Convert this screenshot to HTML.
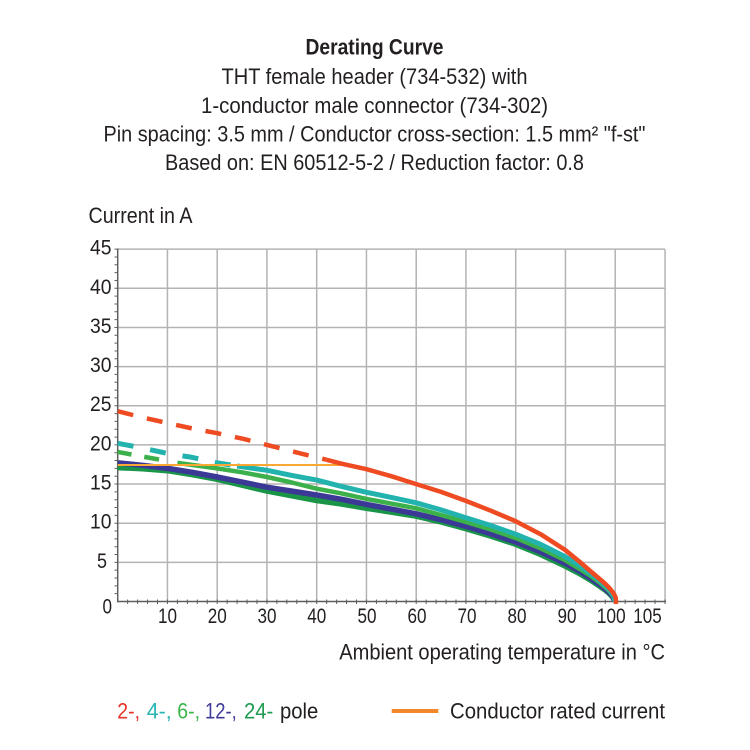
<!DOCTYPE html>
<html>
<head>
<meta charset="utf-8">
<style>
html,body{margin:0;padding:0;background:#fff;}
svg{display:block;}
text{font-family:"Liberation Sans Narrow","Liberation Sans",sans-serif;fill:#231f20;}
</style>
</head>
<body>
<svg width="750" height="750" viewBox="0 0 750 750" xmlns="http://www.w3.org/2000/svg">
<rect x="0" y="0" width="750" height="750" fill="#fff"/>

<!-- Titles -->
<text x="374.5" y="54.5" font-size="22" font-weight="bold" text-anchor="middle" textLength="138" lengthAdjust="spacingAndGlyphs">Derating Curve</text>
<text x="374.5" y="84" font-size="22" text-anchor="middle" textLength="306" lengthAdjust="spacingAndGlyphs">THT female header (734-532) with</text>
<text x="374.5" y="113" font-size="22" text-anchor="middle" textLength="347" lengthAdjust="spacingAndGlyphs">1-conductor male connector (734-302)</text>
<text x="374.5" y="141.5" font-size="22" text-anchor="middle" textLength="542" lengthAdjust="spacingAndGlyphs">Pin spacing: 3.5 mm / Conductor cross-section: 1.5 mm² "f-st"</text>
<text x="374.5" y="170" font-size="22" text-anchor="middle" textLength="419" lengthAdjust="spacingAndGlyphs">Based on: EN 60512-5-2 / Reduction factor: 0.8</text>
<text x="88.5" y="223" font-size="22" textLength="104" lengthAdjust="spacingAndGlyphs">Current in A</text>

<!-- Grid -->
<g stroke="#b3b3b3" stroke-width="1.5" fill="none">
  <line x1="117.7" y1="562.35" x2="665" y2="562.35"/>
  <line x1="117.7" y1="523.2" x2="665" y2="523.2"/>
  <line x1="117.7" y1="484.05" x2="665" y2="484.05"/>
  <line x1="117.7" y1="444.9" x2="665" y2="444.9"/>
  <line x1="117.7" y1="405.75" x2="665" y2="405.75"/>
  <line x1="117.7" y1="366.6" x2="665" y2="366.6"/>
  <line x1="117.7" y1="327.45" x2="665" y2="327.45"/>
  <line x1="117.7" y1="288.3" x2="665" y2="288.3"/>
  <line x1="117.7" y1="249.15" x2="665" y2="249.15"/>
  <line x1="167.45" y1="249.15" x2="167.45" y2="601.5"/>
  <line x1="217.2" y1="249.15" x2="217.2" y2="601.5"/>
  <line x1="266.95" y1="249.15" x2="266.95" y2="601.5"/>
  <line x1="316.7" y1="249.15" x2="316.7" y2="601.5"/>
  <line x1="366.45" y1="249.15" x2="366.45" y2="601.5"/>
  <line x1="416.2" y1="249.15" x2="416.2" y2="601.5"/>
  <line x1="465.95" y1="249.15" x2="465.95" y2="601.5"/>
  <line x1="515.7" y1="249.15" x2="515.7" y2="601.5"/>
  <line x1="565.45" y1="249.15" x2="565.45" y2="601.5"/>
  <line x1="615.2" y1="249.15" x2="615.2" y2="601.5"/>
  <line x1="665.05" y1="249.15" x2="665.05" y2="601.5"/>
</g>

<!-- Axes -->
<g stroke="#5f5f5f" stroke-width="1.5" fill="none">
  <line x1="117.7" y1="248.5" x2="117.7" y2="602.2"/>
  <line x1="117" y1="601.5" x2="666" y2="601.5"/>
</g>
<g stroke="#5f5f5f" stroke-width="1">
  <path d="M114.5 593.67H117.7M114.5 585.84H117.7M114.5 578.01H117.7M114.5 570.18H117.7M114.5 562.35H117.7M114.5 554.52H117.7M114.5 546.69H117.7M114.5 538.86H117.7M114.5 531.03H117.7M114.5 523.2H117.7M114.5 515.37H117.7M114.5 507.54H117.7M114.5 499.71H117.7M114.5 491.88H117.7M114.5 484.05H117.7M114.5 476.22H117.7M114.5 468.39H117.7M114.5 460.56H117.7M114.5 452.73H117.7M114.5 444.9H117.7M114.5 437.07H117.7M114.5 429.24H117.7M114.5 421.41H117.7M114.5 413.58H117.7M114.5 405.75H117.7M114.5 397.92H117.7M114.5 390.09H117.7M114.5 382.26H117.7M114.5 374.43H117.7M114.5 366.6H117.7M114.5 358.77H117.7M114.5 350.94H117.7M114.5 343.11H117.7M114.5 335.28H117.7M114.5 327.45H117.7M114.5 319.62H117.7M114.5 311.79H117.7M114.5 303.96H117.7M114.5 296.13H117.7M114.5 288.3H117.7M114.5 280.47H117.7M114.5 272.64H117.7M114.5 264.81H117.7M114.5 256.98H117.7M114.5 249.15H117.7"/>
  <path d="M127.65 599.5V604M137.6 599.5V604M147.55 599.5V604M157.5 599.5V604M167.45 599.5V604M177.4 599.5V604M187.35 599.5V604M197.3 599.5V604M207.25 599.5V604M217.2 599.5V604M227.15 599.5V604M237.1 599.5V604M247.05 599.5V604M257 599.5V604M266.95 599.5V604M276.9 599.5V604M286.85 599.5V604M296.8 599.5V604M306.75 599.5V604M316.7 599.5V604M326.65 599.5V604M336.6 599.5V604M346.55 599.5V604M356.5 599.5V604M366.45 599.5V604M376.4 599.5V604M386.35 599.5V604M396.3 599.5V604M406.25 599.5V604M416.2 599.5V604M426.15 599.5V604M436.1 599.5V604M446.05 599.5V604M456 599.5V604M465.95 599.5V604M475.9 599.5V604M485.85 599.5V604M495.8 599.5V604M505.75 599.5V604M515.7 599.5V604M525.65 599.5V604M535.6 599.5V604M545.55 599.5V604M555.5 599.5V604M565.45 599.5V604M575.4 599.5V604M585.35 599.5V604M595.3 599.5V604M605.25 599.5V604M615.2 599.5V604M625.15 599.5V604M635.1 599.5V604M645.05 599.5V604M655 599.5V604M665.05 599.5V604"/>
</g>

<!-- Y tick labels -->
<g font-size="21">
  <text x="90" y="254.6" textLength="21.5" lengthAdjust="spacingAndGlyphs">45</text>
  <text x="90" y="293.8" textLength="21.5" lengthAdjust="spacingAndGlyphs">40</text>
  <text x="90" y="333" textLength="21.5" lengthAdjust="spacingAndGlyphs">35</text>
  <text x="90" y="372.1" textLength="21.5" lengthAdjust="spacingAndGlyphs">30</text>
  <text x="90" y="411.2" textLength="21.5" lengthAdjust="spacingAndGlyphs">25</text>
  <text x="90" y="450.4" textLength="21.5" lengthAdjust="spacingAndGlyphs">20</text>
  <text x="90" y="489.5" textLength="21.5" lengthAdjust="spacingAndGlyphs">15</text>
  <text x="90" y="528.7" textLength="21.5" lengthAdjust="spacingAndGlyphs">10</text>
  <text x="97" y="568" textLength="10" lengthAdjust="spacingAndGlyphs">5</text>
  <text x="102.5" y="613.5" textLength="9.5" lengthAdjust="spacingAndGlyphs">0</text>
</g>

<!-- X tick labels -->
<g font-size="21">
  <text x="158" y="623" textLength="19" lengthAdjust="spacingAndGlyphs">10</text>
  <text x="207.7" y="623" textLength="19" lengthAdjust="spacingAndGlyphs">20</text>
  <text x="257.5" y="623" textLength="19" lengthAdjust="spacingAndGlyphs">30</text>
  <text x="307.2" y="623" textLength="19" lengthAdjust="spacingAndGlyphs">40</text>
  <text x="357.5" y="623" textLength="19" lengthAdjust="spacingAndGlyphs">50</text>
  <text x="407.5" y="623" textLength="19" lengthAdjust="spacingAndGlyphs">60</text>
  <text x="457.5" y="623" textLength="19" lengthAdjust="spacingAndGlyphs">70</text>
  <text x="507.5" y="623" textLength="19" lengthAdjust="spacingAndGlyphs">80</text>
  <text x="557.5" y="623" textLength="19" lengthAdjust="spacingAndGlyphs">90</text>
  <text x="596.7" y="623" textLength="29" lengthAdjust="spacingAndGlyphs">100</text>
  <text x="633.3" y="623" textLength="28.5" lengthAdjust="spacingAndGlyphs">105</text>
</g>

<text x="339.3" y="659.5" font-size="22" textLength="325.7" lengthAdjust="spacingAndGlyphs">Ambient operating temperature in °C</text>

<!-- Curves -->
<g fill="none" stroke-linejoin="round">
  <!-- 24-pole dark green -->
  <path stroke="#1a9548" stroke-width="5.5" d="M117.7,467.6 L142.6,468.8 L167.5,470.7 L192.3,474.7 L217.2,479.3 L242.1,485.2 L267,491.1 L291.8,495.8 L316.7,500.5 L341.6,504 L366.5,508.3 L391.3,512.2 L416.2,516.2 L441.1,522 L465.9,528.7 L490.8,536.1 L515.7,544.3 L540.6,554.5 L565.5,566.3 L580.4,574.1 L590.3,580 L600.3,586.6 L605.2,590.1 Q612.5,595.5 615.2,601.5"/>
  <!-- 12-pole blue -->
  <path stroke="#3b3896" stroke-width="5.5" d="M117.7,462.9 L142.6,465.3 L167.5,468.4 L192.3,472.3 L217.2,477 L242.1,482.1 L267,487.2 L291.8,491.1 L316.7,495 L341.6,499.3 L366.5,504.4 L391.3,509.1 L416.2,513.8 L441.1,519.7 L465.9,526.3 L490.8,533.8 L515.7,542 L540.6,551.8 L565.5,563.5 L580.4,571.7 L590.3,578 L600.3,585.1 L605.2,589 Q612.8,594.8 615.2,601.5"/>
  <!-- 6-pole light green -->
  <polyline stroke="#3cb04a" stroke-width="4.5" stroke-dasharray="14,13,15,20" points="117.7,451.9 142.6,456.6 167.5,461 177.4,462.9"/>
  <path stroke="#3cb04a" stroke-width="4.5" d="M177.4,462.9 L217.2,468.4 L242.1,472.3 L267,477 L291.8,482.5 L316.7,488.7 L341.6,493.4 L366.5,498.9 L391.3,503.6 L416.2,508.3 L441.1,515 L465.9,522 L490.8,529.5 L515.7,538.1 L540.6,548.3 L565.5,560.4 L580.4,569.4 L590.3,575.7 L600.3,583.1 L605.2,587.4 Q613,593.5 615.2,601.5"/>
  <!-- 4-pole cyan -->
  <polyline stroke="#22b3ae" stroke-width="5" stroke-dasharray="16,17" points="117.7,443.3 142.6,448 167.5,453.5 192.3,457.4 217.2,462.9 237.1,466"/>
  <path stroke="#22b3ae" stroke-width="5" d="M237.1,466 L267,470.3 L291.8,475.4 L316.7,480.1 L341.6,486.4 L366.5,492.3 L391.3,497.4 L416.2,502.8 L441.1,509.9 L465.9,517.7 L490.8,525.5 L515.7,534.2 L540.6,544.3 L565.5,556.9 L580.4,566.3 L590.3,573.3 L600.3,581.1 L605.2,585.8 Q613.5,592.5 615.2,601.5"/>
  <!-- conductor rated current -->
  <line x1="117.7" y1="465" x2="349.5" y2="465" stroke="#f8a833" stroke-width="2"/>
  <!-- 2-pole red -->
  <polyline stroke="#ef4b23" stroke-width="4.5" stroke-dasharray="16,14" points="117.7,411.2 142.6,417.5 167.5,423 192.3,428.5 217.2,433.2 242.1,438.6 267,444.9 291.8,451.2 316.7,457.4 326.7,459.8"/>
  <path stroke="#ef4b23" stroke-width="4.5" d="M326.7,459.8 L341.6,463.7 L366.5,469.2 L391.3,476.2 L416.2,484.1 L441.1,491.9 L465.9,500.9 L490.8,510.7 L515.7,521.2 L540.6,534.2 L565.5,550.2 L580.4,562.4 L590.3,571 L600.3,579.5 Q613,590 615.8,598 L616,604"/>
</g>

<!-- Legend -->
<g font-size="22">
  <text x="117.3" y="718.3" style="fill:#e8312a" textLength="22.7" lengthAdjust="spacingAndGlyphs">2-,</text>
  <text x="146.7" y="718.3" style="fill:#2bb5b5" textLength="25" lengthAdjust="spacingAndGlyphs">4-,</text>
  <text x="177.3" y="718.3" style="fill:#3ab54a" textLength="22.7" lengthAdjust="spacingAndGlyphs">6-,</text>
  <text x="205" y="718.3" style="fill:#3d3b97" textLength="31.7" lengthAdjust="spacingAndGlyphs">12-,</text>
  <text x="244" y="718.3" style="fill:#1e9b50" textLength="29.3" lengthAdjust="spacingAndGlyphs">24-</text>
  <text x="280" y="718.3" textLength="38.3" lengthAdjust="spacingAndGlyphs">pole</text>
</g>
<line x1="391.7" y1="711" x2="438.3" y2="711" stroke="#f3882b" stroke-width="4"/>
<text x="450" y="718.3" font-size="22" textLength="215" lengthAdjust="spacingAndGlyphs">Conductor rated current</text>
</svg>
</body>
</html>
